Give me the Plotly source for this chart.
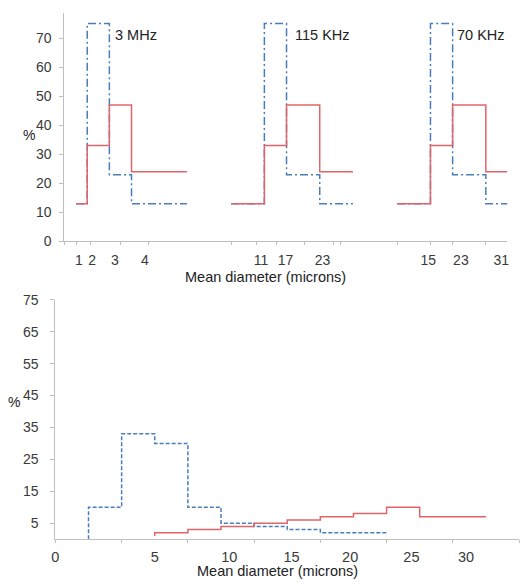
import plotly.graph_objects as go

# ---------------- data ----------------
# Top panel: three frequency groups, step edges in category units
top_groups = ["3 MHz", "115 KHz", "70 KHz"]
top_edges = [[0, 1, 3, 5, 10], [14, 17, 19, 22, 25], [29, 32, 34, 37, 39]]
top_red = [13, 33, 47, 24]
top_blue = [13, 75, 23, 13]
top_label_pos = [3.3, 19.6, 34.2]
top_tick_pos = [0.24, 1.45, 3.5, 6.2, 16.7, 18.9, 22.25, 31.8, 34.75, 38.4]
top_tick_text = ["1", "2", "3", "4", "11", "17", "23", "15", "23", "31"]
top_minor_ticks = [-1.07, 0, 1.3, 4.0, 6.5, 14, 16.3, 18.1, 20.6, 23.2, 23.9, 29, 32, 34, 37]

# Bottom panel
bot_blue_x = [1, 1, 2, 3, 4, 5, 6, 7, 8, 10]
bot_blue_y = [0, 10, 33, 30, 10, 5, 4, 3, 2, 2]
bot_red_x = [3, 3, 4, 5, 6, 7, 8, 9, 10, 11, 13]
bot_red_y = [1, 2, 3, 4, 5, 6, 7, 8, 10, 7, 7]
bot_tick_pos = [0, 3.0, 5.25, 7.13, 8.9, 10.75, 12.4]
bot_tick_text = ["0", "5", "10", "15", "20", "25", "30"]
bot_minor_ticks = [0, 2, 4, 6, 8, 10, 12, 14]

x_title = "Mean diameter (microns)"

RED = "#e0656a"
BLUE = "#4a7ebb"
AX = "#bfbfbf"
TXT = "#3a3a3a"
DARK = "#222222"
FONT = "Liberation Sans, Arial, sans-serif"

fig = go.Figure()

for i, edges in enumerate(top_edges):
    fig.add_trace(go.Scatter(x=edges, y=top_blue + [top_blue[-1]], mode="lines",
                             line=dict(color=BLUE, width=1.5, dash="8px,3px,2px,3px", shape="hv"),
                             xaxis="x", yaxis="y", showlegend=False, hoverinfo="skip"))
    fig.add_trace(go.Scatter(x=edges, y=top_red + [top_red[-1]], mode="lines",
                             line=dict(color=RED, width=1.5, shape="hv"),
                             xaxis="x", yaxis="y", showlegend=False, hoverinfo="skip"))
    fig.add_annotation(x=top_label_pos[i], y=71, xref="x", yref="y", text=top_groups[i],
                       showarrow=False, xanchor="left", yanchor="middle",
                       font=dict(size=14.5, color=DARK, family=FONT))

fig.add_trace(go.Scatter(x=bot_blue_x, y=bot_blue_y, mode="lines",
                         line=dict(color=BLUE, width=1.5, dash="4px,2px", shape="hv"),
                         xaxis="x2", yaxis="y2", showlegend=False, hoverinfo="skip"))
fig.add_trace(go.Scatter(x=bot_red_x, y=bot_red_y, mode="lines",
                         line=dict(color=RED, width=1.5, shape="hv"),
                         xaxis="x2", yaxis="y2", showlegend=False, hoverinfo="skip"))

W, H = 525, 588
common_axis = dict(showgrid=False, zeroline=False, showline=True, linecolor=AX, linewidth=1,
                   tickfont=dict(size=14, color=TXT, family=FONT))

fig.update_layout(
    width=W, height=H, margin=dict(l=0, r=0, t=0, b=0),
    paper_bgcolor="white", plot_bgcolor="white",
    font=dict(family=FONT, color=TXT),
    xaxis=dict(common_axis, domain=[61 / W, 509 / W], range=[-1.07, 38.93], anchor="y",
               tickmode="array", tickvals=top_tick_pos, ticktext=top_tick_text, ticks="",
               ticklabelstandoff=6,
               minor=dict(tickmode="array", tickvals=top_minor_ticks, ticks="outside",
                          ticklen=3, tickcolor=AX)),
    yaxis=dict(common_axis, domain=[1 - 240 / H, 1 - 5 / H], range=[0, 78.7], anchor="x",
               tickmode="array", tickvals=[0, 10, 20, 30, 40, 50, 60, 70],
               ticks="outside", ticklen=4, tickcolor=AX, ticklabelstandoff=5),
    xaxis2=dict(common_axis, domain=[52 / W, 521 / W], range=[0, 14], anchor="y2",
                tickmode="array", tickvals=bot_tick_pos, ticktext=bot_tick_text, ticks="",
                tickfont=dict(size=14.5, color=TXT, family=FONT), ticklabelstandoff=4,
                minor=dict(tickmode="array", tickvals=bot_minor_ticks, ticks="outside",
                           ticklen=3, tickcolor=AX)),
    yaxis2=dict(common_axis, domain=[1 - 546 / H, 1 - 300 / H], range=[0, 75], anchor="x2",
                tickmode="array", tickvals=[5, 15, 25, 35, 45, 55, 65, 75],
                tickfont=dict(size=14, color=TXT, family=FONT), ticklabelstandoff=9,
                ticks="outside", ticklen=4, tickcolor=AX),
)

fig.add_annotation(x=265 / W, y=1 - 277 / H, xref="paper", yref="paper", text=x_title,
                   showarrow=False, xanchor="center", yanchor="middle",
                   font=dict(size=14.5, color=DARK, family=FONT))
fig.add_annotation(x=277 / W, y=1 - 579 / H, xref="paper", yref="paper", text=x_title,
                   showarrow=False, xanchor="center", yanchor="middle",
                   font=dict(size=14.5, color=DARK, family=FONT))
fig.add_annotation(x=25 / W, y=1 - 131 / H, xref="paper", yref="paper", text="%",
                   showarrow=False, xanchor="center", yanchor="middle",
                   font=dict(size=14, color=DARK, family=FONT))
fig.add_annotation(x=10 / W, y=1 - 405 / H, xref="paper", yref="paper", text="%",
                   showarrow=False, xanchor="center", yanchor="middle",
                   font=dict(size=14, color=DARK, family=FONT))

fig.write_html("out.html")
